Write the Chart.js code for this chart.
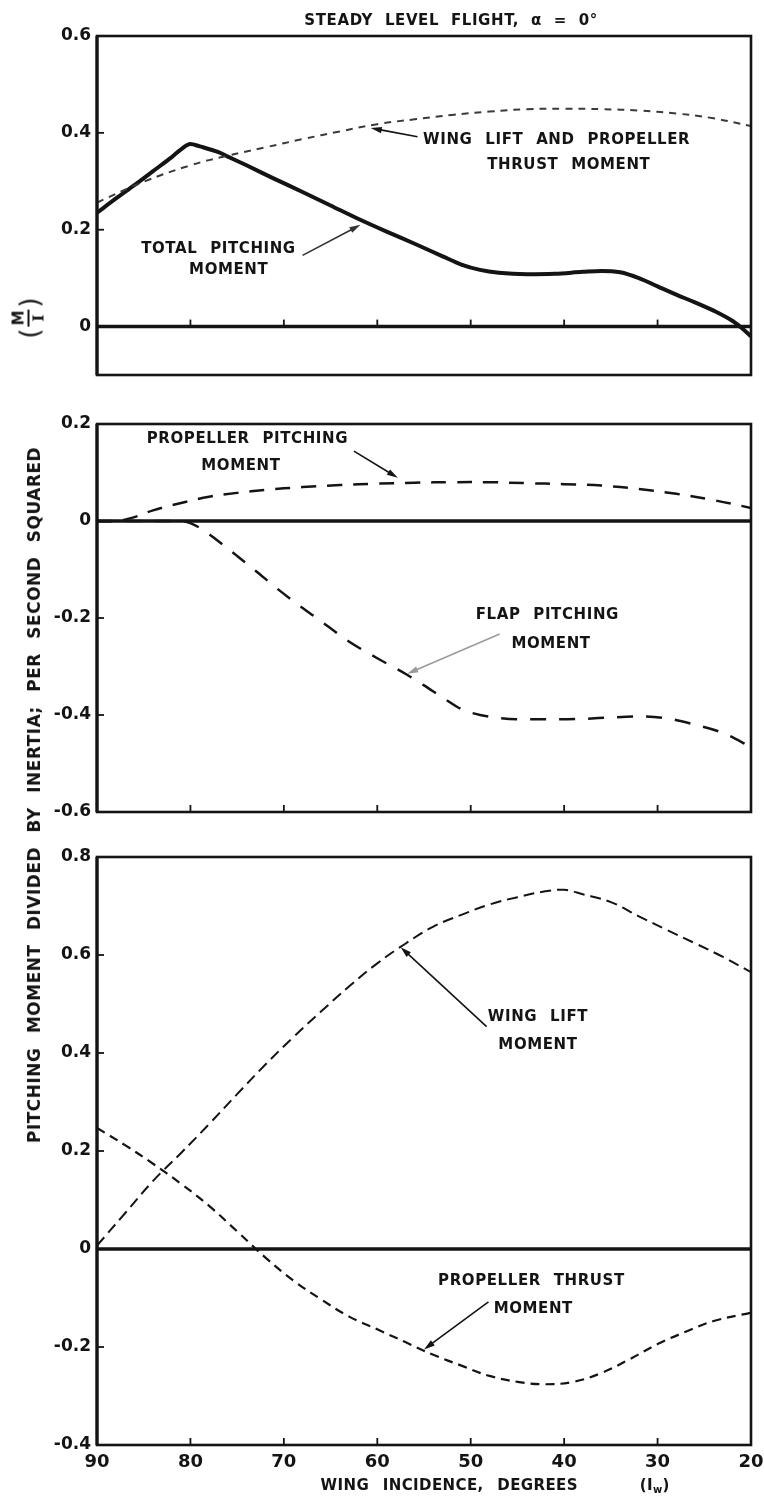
<!DOCTYPE html>
<html>
<head>
<meta charset="utf-8">
<script src="https://cdn.jsdelivr.net/npm/chart.js@4.4.0/dist/chart.umd.min.js"></script>
<style>
  html, body { margin: 0; padding: 0; background: #ffffff; }
  #sheet { position: relative; width: 764px; height: 1498px; overflow: hidden; background: #ffffff; }
  #sheet canvas { position: absolute; left: 0; }
  #ytitle {
    position: absolute; left: 34px; top: 795px;
    transform: translate(-50%, -50%) rotate(-90deg);
    white-space: nowrap; color: #141414;
    font: bold 17px "DejaVu Sans", sans-serif; word-spacing: 8px;
  }
  #mi {
    position: absolute; left: 29px; top: 318px;
    transform: translate(-50%, -50%) rotate(-90deg);
    display: flex; align-items: center; color: #141414;
    font: bold 15px "DejaVu Sans", sans-serif;
  }
  #mi .par { font-size: 26px; font-weight: normal; line-height: 1; }
  #mi .frac { display: inline-flex; flex-direction: column; align-items: center; margin: 0 2px; line-height: 1; }
  #mi .num { border-bottom: 2px solid #141414; padding: 0 1px 1px 1px; }
  #mi .den { font-family: "DejaVu Serif", serif; padding-top: 2px; }
</style>
</head>
<body>
<div id="sheet">
  <canvas id="top" width="764" height="400" style="top:0px"></canvas>
  <canvas id="mid" width="764" height="440" style="top:400px"></canvas>
  <canvas id="low" width="764" height="658" style="top:840px"></canvas>
  <div id="mi"><span class="par">(</span><span class="frac"><span class="num">M</span><span class="den">I</span></span><span class="par">)</span></div>
  <div id="ytitle">PITCHING MOMENT DIVIDED BY INERTIA; PER SECOND SQUARED</div>
</div>
<script>
// ---- axis ticks ----
const xTicks = [90, 80, 70, 60, 50, 40, 30, 20];
const yTicksTop = [0, 0.2, 0.4, 0.6];
const yTicksMid = [0.2, 0, -0.2, -0.4, -0.6];
const yTicksLow = [0.8, 0.6, 0.4, 0.2, 0, -0.2, -0.4];

// ---- upper panel: total pitching moment and wing lift + propeller thrust ----
const totalDeg    = [90, 88, 86, 84, 82, 81, 80, 79, 77, 76, 74, 71, 68, 65, 62, 59, 56, 53, 51, 49, 47, 44, 41, 38, 36, 34, 32, 30, 28, 26, 24, 22, 21, 20];
const totalMoment = [0.235, 0.264, 0.292, 0.321, 0.350, 0.366, 0.377, 0.372, 0.360, 0.351, 0.333, 0.305, 0.278, 0.250, 0.222, 0.196, 0.171, 0.145, 0.128, 0.117, 0.111, 0.108, 0.109, 0.113, 0.115, 0.112, 0.100, 0.083, 0.066, 0.050, 0.033, 0.012, -0.003, -0.020];

const liftThrustDeg    = [90, 85, 80, 76, 72, 68, 64, 60, 56, 52, 48, 44, 40, 36, 32, 28, 24, 20];
const liftThrustMoment = [0.256, 0.299, 0.333, 0.353, 0.370, 0.387, 0.403, 0.418, 0.428, 0.437, 0.444, 0.449, 0.450, 0.449, 0.446, 0.440, 0.430, 0.414];

// ---- middle panel: propeller and flap pitching moments ----
const propPitchDeg    = [90, 88, 86, 84, 81, 78, 75, 72, 68, 64, 60, 56, 52, 48, 44, 40, 36, 32, 28, 24, 20];
const propPitchMoment = [0.0, 0.0, 0.008, 0.022, 0.037, 0.050, 0.058, 0.064, 0.070, 0.074, 0.077, 0.079, 0.080, 0.080, 0.078, 0.076, 0.073, 0.066, 0.056, 0.043, 0.027];

const flapDeg    = [90, 85, 81, 79, 77, 75, 73, 71, 69, 66, 63, 60, 57, 55, 53, 51, 49, 47, 44, 41, 38, 35, 32, 29, 26, 23, 20];
const flapMoment = [0, 0, 0, -0.014, -0.042, -0.072, -0.103, -0.135, -0.165, -0.207, -0.249, -0.283, -0.315, -0.339, -0.364, -0.388, -0.400, -0.406, -0.409, -0.409, -0.408, -0.405, -0.403, -0.407, -0.420, -0.437, -0.466];

// ---- lower panel: wing lift and propeller thrust moments ----
const wingDeg        = [90, 87, 84, 81, 78, 75, 72, 69, 66, 63, 60, 57, 54, 51, 48, 45, 42, 40, 38, 35, 32, 29, 26, 23, 20];
const wingLiftMoment = [0.007, 0.073, 0.139, 0.196, 0.255, 0.316, 0.376, 0.432, 0.485, 0.536, 0.583, 0.623, 0.658, 0.682, 0.703, 0.718, 0.730, 0.733, 0.724, 0.708, 0.679, 0.651, 0.624, 0.596, 0.565];

const thrustDeg      = [90, 87, 84, 81, 78, 75, 72, 69, 66, 63, 60, 57, 54, 51, 48, 45, 42, 39, 36, 33, 30, 27, 24, 20];
const thrustMoment   = [0.247, 0.212, 0.174, 0.133, 0.088, 0.036, -0.017, -0.064, -0.103, -0.138, -0.164, -0.190, -0.216, -0.238, -0.259, -0.271, -0.276, -0.271, -0.253, -0.225, -0.194, -0.169, -0.147, -0.130];

const INK = '#141414';
const LABEL_FONT = '"DejaVu Sans", "Liberation Sans", sans-serif';

const pts = (deg, val) => deg.map((d, i) => ({ x: d, y: val[i] }));
const fmt = v => v === 0 ? '0' : (v < 0 ? '-' : '') + Math.abs(v).toFixed(1);

function drawNote(ctx, text, cx, cy) {
  ctx.save();
  ctx.font = 'bold 15px ' + LABEL_FONT;
  ctx.letterSpacing = '0.6px';
  ctx.wordSpacing = '7px';
  ctx.fillStyle = INK;
  ctx.textAlign = 'center';
  ctx.textBaseline = 'middle';
  ctx.fillText(text, cx, cy);
  ctx.restore();
}

function drawArrow(ctx, x0, y0, x1, y1, color) {
  const ang = Math.atan2(y1 - y0, x1 - x0);
  const len = 11, half = 3.2;
  ctx.save();
  ctx.strokeStyle = color; ctx.fillStyle = color;
  ctx.lineWidth = 1.6;
  ctx.beginPath();
  ctx.moveTo(x0, y0);
  ctx.lineTo(x1 - Math.cos(ang) * len * 0.8, y1 - Math.sin(ang) * len * 0.8);
  ctx.stroke();
  ctx.beginPath();
  ctx.moveTo(x1, y1);
  ctx.lineTo(x1 - Math.cos(ang) * len - Math.sin(ang) * half, y1 - Math.sin(ang) * len + Math.cos(ang) * half);
  ctx.lineTo(x1 - Math.cos(ang) * len + Math.sin(ang) * half, y1 - Math.sin(ang) * len - Math.cos(ang) * half);
  ctx.closePath();
  ctx.fill();
  ctx.restore();
}

// Frame, zero line, inward tick marks and callouts for one panel
function panelDecor(cfg) {
  return {
    id: 'panelDecor',
    afterDatasetsDraw(chart) {
      const { ctx, chartArea: a, scales: { x, y } } = chart;
      ctx.save();
      ctx.strokeStyle = INK;
      ctx.lineCap = 'butt';

      // zero line
      const y0 = y.getPixelForValue(0);
      ctx.lineWidth = 3.5;
      ctx.beginPath(); ctx.moveTo(a.left, y0); ctx.lineTo(a.right, y0); ctx.stroke();

      // frame
      ctx.lineWidth = 2.6;
      ctx.strokeRect(a.left, a.top, a.right - a.left, a.bottom - a.top);
      ctx.lineWidth = 3.2;
      ctx.beginPath(); ctx.moveTo(a.left, a.top); ctx.lineTo(a.left, a.bottom); ctx.stroke();

      // inward ticks along the horizontal base line
      const base = y.getPixelForValue(cfg.xTickBase);
      ctx.lineWidth = 1.8;
      xTicks.slice(1, -1).forEach(v => {
        const px = x.getPixelForValue(v);
        ctx.beginPath(); ctx.moveTo(px, base); ctx.lineTo(px, base - 7); ctx.stroke();
      });
      // inward ticks along the left edge
      cfg.yTicks.forEach(v => {
        if (v === 0 || v === cfg.yMin || v === cfg.yMax) return;
        const py = y.getPixelForValue(v);
        ctx.beginPath(); ctx.moveTo(a.left, py); ctx.lineTo(a.left + 7, py); ctx.stroke();
      });
      ctx.restore();

      (cfg.arrows || []).forEach(ar => drawArrow(ctx,
        x.getPixelForValue(ar.from[0]), y.getPixelForValue(ar.from[1]),
        x.getPixelForValue(ar.to[0]), y.getPixelForValue(ar.to[1]), ar.color || INK));
      (cfg.notes || []).forEach(n => drawNote(ctx, n.text, x.getPixelForValue(n.at[0]), y.getPixelForValue(n.at[1])));
      if (cfg.extra) cfg.extra(chart);
    }
  };
}

function makePanel(id, cfg) {
  return new Chart(document.getElementById(id), {
    type: 'line',
    data: {
      datasets: cfg.series.map(s => ({
        data: pts(s.deg, s.val),
        borderColor: s.color || INK,
        borderWidth: s.width,
        borderDash: s.dash || [],
        borderCapStyle: 'butt',
        pointRadius: 0,
        fill: false,
        cubicInterpolationMode: s.smooth ? 'default' : 'monotone',
        tension: s.smooth || 0
      }))
    },
    options: {
      responsive: false,
      animation: false,
      devicePixelRatio: 1,
      layout: { padding: { left: 0, right: 13, top: cfg.padTop, bottom: cfg.padBottom } },
      plugins: { legend: { display: false }, tooltip: { enabled: false } },
      scales: {
        x: {
          type: 'linear', min: 20, max: 90, reverse: true,
          display: cfg.showX,
          grid: { display: false, drawTicks: false },
          border: { display: false },
          afterBuildTicks: s => { s.ticks = xTicks.map(v => ({ value: v })); },
          afterFit: s => {
            if (cfg.showX) s.height = cfg.xHeight;
            s.paddingLeft = 0; s.paddingRight = 0;
          },
          ticks: {
            autoSkip: false, maxRotation: 0, padding: 7, color: INK,
            font: { family: LABEL_FONT, weight: 'bold', size: 18 },
            callback: v => String(v)
          }
        },
        y: {
          type: 'linear', min: cfg.yMin, max: cfg.yMax,
          grid: { display: false, drawTicks: false },
          border: { display: false },
          afterBuildTicks: s => { s.ticks = cfg.yTicks.map(v => ({ value: v })); },
          afterFit: s => { s.width = 97; s.paddingTop = 0; s.paddingBottom = 0; },
          ticks: {
            autoSkip: false, padding: 6, color: INK,
            font: { family: LABEL_FONT, weight: 'bold', size: 17 },
            callback: v => fmt(v)
          }
        }
      }
    },
    plugins: [panelDecor(cfg)]
  });
}

makePanel('top', {
  yMin: -0.1, yMax: 0.6, yTicks: yTicksTop, xTickBase: 0,
  padTop: 36, padBottom: 25, showX: false,
  series: [
    { deg: liftThrustDeg, val: liftThrustMoment, width: 2, dash: [7, 6], color: '#3a3a3a', smooth: 0.4 },
    { deg: totalDeg, val: totalMoment, width: 4 }
  ],
  notes: [
    { text: 'WING LIFT AND PROPELLER', at: [40.8, 0.385] },
    { text: 'THRUST MOMENT', at: [39.5, 0.334] },
    { text: 'TOTAL PITCHING', at: [77.0, 0.160] },
    { text: 'MOMENT', at: [75.9, 0.116] }
  ],
  arrows: [
    { from: [55.7, 0.392], to: [60.7, 0.410] },
    { from: [68.0, 0.147], to: [61.8, 0.210], color: '#333' }
  ],
  extra(chart) {
    const { ctx, chartArea: a, scales: { x } } = chart;
    ctx.save();
    ctx.font = 'bold 15px ' + LABEL_FONT;
    ctx.letterSpacing = '0.6px';
    ctx.wordSpacing = '6px';
    ctx.fillStyle = INK;
    ctx.textAlign = 'center';
    ctx.textBaseline = 'middle';
    ctx.fillText('STEADY LEVEL FLIGHT, \u03B1 = 0\u00B0', x.getPixelForValue(52.1), a.top - 15);
    ctx.restore();
  }
});

makePanel('mid', {
  yMin: -0.6, yMax: 0.2, yTicks: yTicksMid, xTickBase: -0.6,
  padTop: 24, padBottom: 28, showX: false,
  series: [
    { deg: propPitchDeg, val: propPitchMoment, width: 2.5, dash: [15, 11], smooth: 0.4 },
    { deg: flapDeg, val: flapMoment, width: 2.5, dash: [16, 13] }
  ],
  notes: [
    { text: 'PROPELLER PITCHING', at: [73.9, 0.168] },
    { text: 'MOMENT', at: [74.6, 0.114] },
    { text: 'FLAP PITCHING', at: [41.8, -0.195] },
    { text: 'MOMENT', at: [41.4, -0.253] }
  ],
  arrows: [
    { from: [62.5, 0.144], to: [57.8, 0.089] },
    { from: [46.9, -0.233], to: [56.8, -0.315], color: '#9a9a9a' }
  ]
});

makePanel('low', {
  yMin: -0.4, yMax: 0.8, yTicks: yTicksLow, xTickBase: -0.4,
  padTop: 17, padBottom: 0, showX: true, xHeight: 53,
  series: [
    { deg: wingDeg, val: wingLiftMoment, width: 2, dash: [11, 6], smooth: 0.4 },
    { deg: thrustDeg, val: thrustMoment, width: 2.2, dash: [9, 6], smooth: 0.4 }
  ],
  notes: [
    { text: 'WING LIFT', at: [42.8, 0.473] },
    { text: 'MOMENT', at: [42.8, 0.417] },
    { text: 'PROPELLER THRUST', at: [43.5, -0.065] },
    { text: 'MOMENT', at: [43.3, -0.122] }
  ],
  arrows: [
    { from: [48.3, 0.454], to: [57.5, 0.616] },
    { from: [48.1, -0.108], to: [55.0, -0.205] }
  ],
  extra(chart) {
    const { ctx, chartArea: a, scales: { x } } = chart;
    ctx.save();
    ctx.font = 'bold 15px ' + LABEL_FONT;
    ctx.letterSpacing = '0.4px';
    ctx.wordSpacing = '8px';
    ctx.fillStyle = INK;
    ctx.textAlign = 'center';
    ctx.textBaseline = 'middle';
    const ty = a.bottom + 41;
    ctx.fillText('WING INCIDENCE, DEGREES', x.getPixelForValue(52.3), ty);
    // (I_w) symbol
    const cx = x.getPixelForValue(30.3);
    ctx.textAlign = 'left';
    const wP = ctx.measureText('(I').width;
    ctx.font = 'bold 10px ' + LABEL_FONT;
    const wS = ctx.measureText('w').width;
    ctx.font = 'bold 15px ' + LABEL_FONT;
    const wC = ctx.measureText(')').width;
    let px = cx - (wP + wS + wC) / 2;
    ctx.fillText('(I', px, ty); px += wP;
    ctx.font = 'bold 10px ' + LABEL_FONT;
    ctx.fillText('w', px, ty + 4); px += wS;
    ctx.font = 'bold 15px ' + LABEL_FONT;
    ctx.fillText(')', px, ty);
    ctx.restore();
  }
});

// stretch the vertical axis title over its span
(function () {
  const el = document.getElementById('ytitle');
  const span = 696;
  const w = el.getBoundingClientRect().height;
  const n = el.textContent.length;
  el.style.letterSpacing = ((span - w) / n).toFixed(2) + 'px';
})();
</script>
</body>
</html>
